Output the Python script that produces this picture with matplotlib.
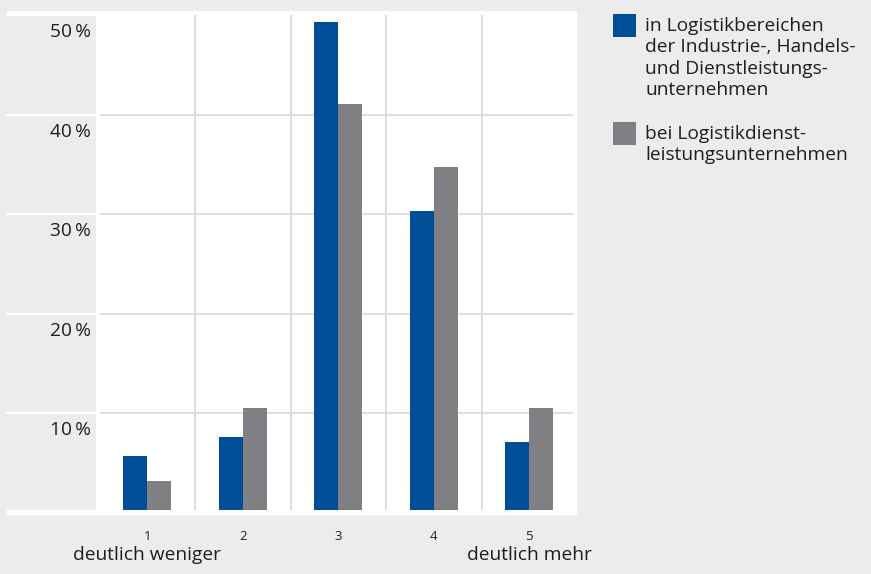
import matplotlib
matplotlib.use("Agg")
import matplotlib.pyplot as plt
from matplotlib.patches import Rectangle
from matplotlib.lines import Line2D
from matplotlib.transforms import blended_transform_factory

categories = [1, 2, 3, 4, 5]
tick_labels = ["1", "2", "3", "4", "5"]
series_names = ["in Logistikbereichen\nder Industrie-, Handels-\nund Dienstleistungs-\nunternehmen",
                "bei Logistikdienst-\nleistungsunternehmen"]
industry = [5.7, 7.6, 49.3, 30.3, 7.1]
service = [3.2, 10.5, 41.1, 34.7, 10.5]
y_ticks = [10, 20, 30, 40, 50]
y_tick_labels = ["10\u2009%", "20\u2009%", "30\u2009%", "40\u2009%", "50\u2009%"]
end_labels = {1: "deutlich weniger", 5: "deutlich mehr"}

W, H = 871, 574
BG = "#ebeceb"
BLUE = "#004e98"
GRAY = "#807f84"
GRID = "#dedede"
TXT = "#1e1e1e"
FS = 13.8
plt.rcParams['font.family'] = ['Open Sans', 'DejaVu Sans']

fig = plt.figure(figsize=(W / 100, H / 100), dpi=100, facecolor=BG)

def fx(px):
    return px / W

def fy(py):
    return 1 - py / H

# white panel
fig.patches.append(Rectangle((fx(7), fy(515)), fx(577) - fx(7), fy(11) - fy(515),
                             transform=fig.transFigure, facecolor="white", edgecolor="none", zorder=-3))
# left label band
fig.patches.append(Rectangle((fx(7), fy(510)), fx(96) - fx(7), fy(16) - fy(510),
                             transform=fig.transFigure, facecolor=BG, edgecolor="none", zorder=-2))

# axes
left, right, top, bottom = 99.5, 577, 15, 510
ax = fig.add_axes([fx(left), fy(bottom), fx(right) - fx(left), fy(top) - fy(bottom)])
ax.set_zorder(1)
ax.set_facecolor("none")
ax.set_xlim(0.5, 5.5)
ax.set_ylim(0.3, 50)
for s in ax.spines.values():
    s.set_visible(False)
ax.set_xticks([])
ax.set_yticks([])

xmax_frac = (572 - left) / (right - left)
for v in y_ticks[:-1]:
    ax.axhline(v, xmin=0, xmax=xmax_frac, color=GRID, lw=1.4, zorder=1)
for c in categories[:-1]:
    ax.axvline(c + 0.5, color=GRID, lw=1.4, zorder=1)

bw = 0.25
ax.bar([c - bw / 2 for c in categories], industry, width=bw, color=BLUE, zorder=2, bottom=0)
ax.bar([c + bw / 2 for c in categories], service, width=bw, color=GRAY, zorder=2, bottom=0)

fig.canvas.draw()
# white separators across label band and y labels
for v, lab in zip(y_ticks, y_tick_labels):
    y_px = ax.transData.transform((1, v))[1]
    ypx_img = H - y_px
    if v < 50:
        fig.lines.append(Line2D([fx(7), fx(100)], [fy(ypx_img), fy(ypx_img)],
                                transform=fig.transFigure, color="white", lw=1.6, zorder=-1))
    fig.text(fx(91), fy(ypx_img + 17), lab, ha="right", va="center", fontsize=FS, color=TXT)

# x tick labels
trans = blended_transform_factory(ax.transData, fig.transFigure)
for c, lab in zip(categories, tick_labels):
    ax.text(c, fy(536), lab, transform=trans, ha="center", va="center", fontsize=9.5, color=TXT,
            clip_on=False)
    if c in end_labels:
        ax.text(c, fy(555), end_labels[c], transform=trans, ha="center", va="center",
                fontsize=FS, color=TXT, clip_on=False)

# legend
leg_items = [(BLUE, series_names[0], 14), (GRAY, series_names[1], 122)]
for col, name, ytop in leg_items:
    fig.patches.append(Rectangle((fx(613), fy(ytop + 23)), fx(636) - fx(613), fy(ytop) - fy(ytop + 23),
                                 transform=fig.transFigure, facecolor=col, edgecolor="none"))
    fig.text(fx(645), fy(ytop + 3), name, ha="left", va="top", fontsize=FS, color=TXT,
             linespacing=1.24)

fig.savefig("out.png", dpi=100, facecolor=BG)
